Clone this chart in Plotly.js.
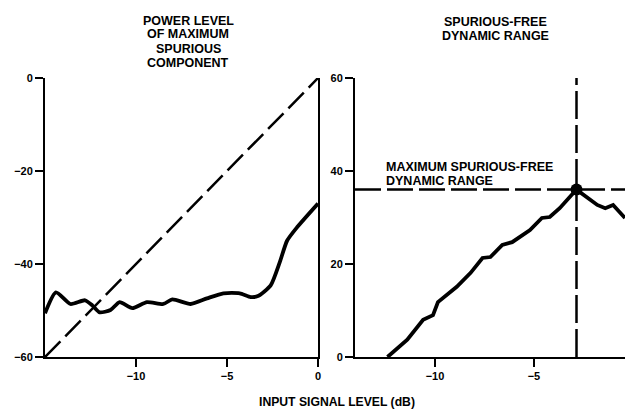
<!DOCTYPE html>
<html>
<head>
<meta charset="utf-8">
<script src="https://cdn.plot.ly/plotly-3.0.1.min.js"></script>
<style>html,body{margin:0;padding:0;background:#fff;}#chart{width:625px;height:409px;}</style>
</head>
<body>
<div id="chart"></div>
<script>
// Left panel: power level of maximum spurious component (dB) vs input signal level (dB)
const spurX = [-15.0, -14.4, -13.6, -12.8, -12.4, -12.0, -11.4, -10.9, -10.2, -9.4, -8.5, -8.0, -7.0, -6.1, -5.2, -4.3, -3.7, -3.3, -2.6, -2.1, -1.7, -1.15, 0];
const spurY = [-50.6, -46.1, -48.6, -47.8, -48.9, -50.4, -49.9, -48.2, -49.5, -48.2, -48.6, -47.6, -48.6, -47.4, -46.3, -46.3, -47.1, -46.9, -44.6, -39.6, -35.0, -32.1, -27.0];
// Left panel dashed reference line (fundamental)
const refX = [-15, 0];
const refY = [-60, 0];
// Right panel: spurious-free dynamic range (dB)
const sfdrX = [-12.4, -11.4, -10.6, -10.1, -9.85, -8.9, -8.2, -7.6, -7.2, -6.6, -6.1, -5.2, -4.6, -4.2, -3.7, -2.85, -1.8, -1.4, -1.0, -0.4];
const sfdrY = [0, 3.7, 8.0, 9.0, 11.8, 15.1, 18.1, 21.3, 21.5, 24.1, 24.7, 27.3, 29.9, 30.1, 32.0, 36.0, 32.7, 32.0, 32.7, 29.9];
// Maximum SFDR point
const maxInput = -2.85;
const maxSFDR = 36;
// Axis ranges and ticks
const leftXRange = [-15, 0];
const leftYRange = [-60, 0];
const rightXRange = [-14.04, -0.4];
const rightYRange = [0, 60];
const leftXTicks = [-10, -5, 0];
const leftYTicks = [-60, -40, -20, 0];
const rightXTicks = [-10, -5];
const rightYTicks = [0, 20, 40, 60];
// Text lines
const leftTitleLines = ['POWER LEVEL', 'OF MAXIMUM', 'SPURIOUS', 'COMPONENT'];
const rightTitleLines = ['SPURIOUS-FREE', 'DYNAMIC RANGE'];
const noteLines = ['MAXIMUM SPURIOUS-FREE', 'DYNAMIC RANGE'];
const xTitle = 'INPUT SIGNAL LEVEL (dB)';

const FONT = 'Liberation Sans, Arial, sans-serif';
const black = '#000';
const TXT = {family: FONT, size: 12.5, color: black, weight: 'bold'};

const traces = [
  {x: refX, y: refY, xaxis: 'x', yaxis: 'y', mode: 'lines',
   line: {color: black, width: 2.5, dash: '22px,7px'}, hoverinfo: 'skip'},
  {x: spurX, y: spurY, xaxis: 'x', yaxis: 'y', mode: 'lines',
   line: {color: black, width: 3.8, shape: 'spline', smoothing: 0.6}},
  {x: [rightXRange[0], rightXRange[1]], y: [maxSFDR, maxSFDR], xaxis: 'x2', yaxis: 'y2', mode: 'lines',
   line: {color: black, width: 2.5, dash: '26px,6px'}, hoverinfo: 'skip'},
  {x: [maxInput, maxInput], y: [rightYRange[0], rightYRange[1]], xaxis: 'x2', yaxis: 'y2', mode: 'lines',
   line: {color: black, width: 2.5, dash: '28px,6px'}, hoverinfo: 'skip'},
  {x: sfdrX, y: sfdrY, xaxis: 'x2', yaxis: 'y2', mode: 'lines',
   line: {color: black, width: 3.8}},
  {x: [maxInput], y: [maxSFDR], xaxis: 'x2', yaxis: 'y2', mode: 'markers',
   marker: {color: black, size: 12}}
];

const axisCommon = {
  showgrid: false, zeroline: false, showline: true, linecolor: black, linewidth: 2,
  ticks: 'outside', ticklen: 8, tickwidth: 2, tickcolor: black,
  tickfont: {family: FONT, size: 11, color: black, weight: 'bold'},
  fixedrange: true
};

// pixel helpers for text placement (plot area spans x 45..625, y 78..357)
const px2paperX = px => (px - 45) / 580;
const py2paperY = py => (357 - py) / 279;

const annotations = [];
const leftTitleY = [20.5, 34.5, 48.7, 63];
leftTitleLines.forEach((t, i) => annotations.push({text: t, xref: 'paper', yref: 'paper',
  x: px2paperX(188), y: py2paperY(leftTitleY[i]), xanchor: 'center', yanchor: 'middle', showarrow: false, font: TXT}));
const rightTitleY = [21.5, 35.5];
rightTitleLines.forEach((t, i) => annotations.push({text: t, xref: 'paper', yref: 'paper',
  x: px2paperX(495), y: py2paperY(rightTitleY[i]), xanchor: 'center', yanchor: 'middle', showarrow: false, font: TXT}));
const noteY = [167, 180.5];
noteLines.forEach((t, i) => annotations.push({text: t, xref: 'paper', yref: 'paper',
  x: px2paperX(384), y: py2paperY(noteY[i]), xanchor: 'left', yanchor: 'middle', showarrow: false, font: TXT}));
annotations.push({text: xTitle, xref: 'paper', yref: 'paper',
  x: px2paperX(336.5), y: py2paperY(401.5), xanchor: 'center', yanchor: 'middle', showarrow: false,
  font: Object.assign({}, TXT, {size: 12.2})});

const layout = {
  width: 625, height: 409,
  margin: {l: 45, r: 0, t: 78, b: 52},
  paper_bgcolor: '#fff', plot_bgcolor: '#fff',
  showlegend: false,
  font: {family: FONT, color: black},
  xaxis: Object.assign({}, axisCommon, {domain: [0, 0.4707], range: leftXRange, tickvals: leftXTicks, anchor: 'y'}),
  yaxis: Object.assign({}, axisCommon, {domain: [0, 1], range: leftYRange, tickvals: leftYTicks, anchor: 'x', mirror: true}),
  xaxis2: Object.assign({}, axisCommon, {domain: [0.5345, 1], range: rightXRange, tickvals: rightXTicks, anchor: 'y2'}),
  yaxis2: Object.assign({}, axisCommon, {domain: [0, 1], range: rightYRange, tickvals: rightYTicks, anchor: 'x2'}),
  annotations: annotations
};

Plotly.newPlot('chart', traces, layout, {displayModeBar: false, staticPlot: true});
</script>
</body>
</html>
